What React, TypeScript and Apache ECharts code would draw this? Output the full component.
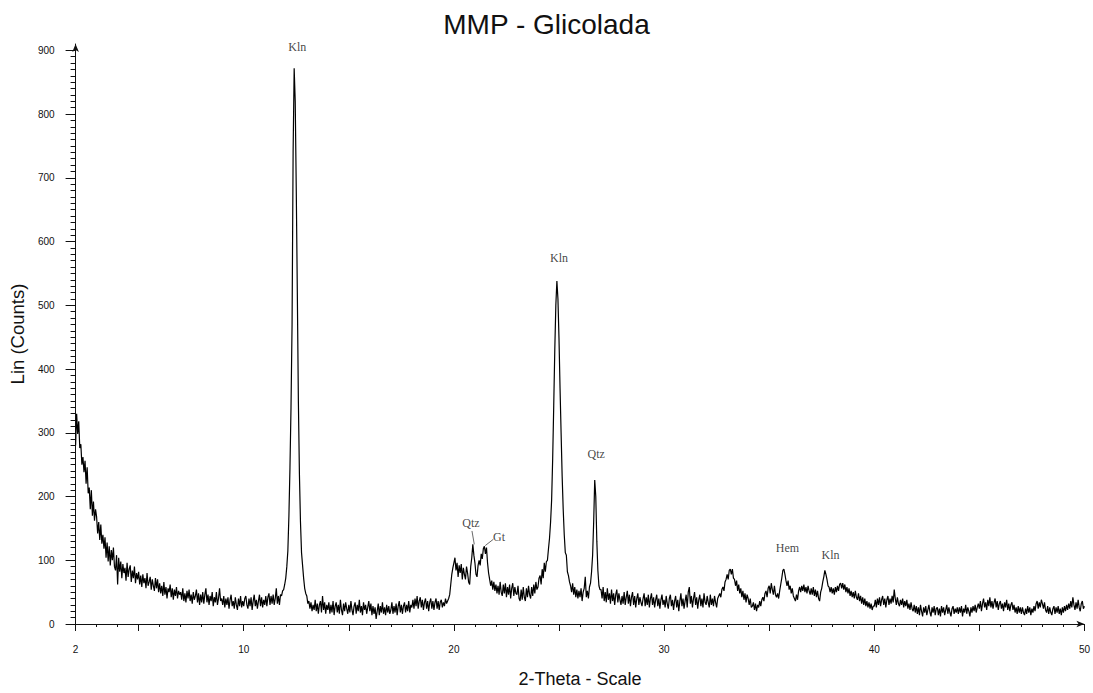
import { useEffect, useRef } from 'react';
import * as echarts from 'echarts';

// 2-theta grid: counts sampled every 0.05 deg starting at 2.00
const THETA_START = 2;
const THETA_STEP = 0.05;

const counts2to10 = [
  280, 330, 298, 318, 276, 282, 250, 262, 238, 256, 220, 246, 205, 214, 180, 210, 170, 192, 162, 180,
  168, 142, 160, 132, 156, 126, 140, 118, 136, 104, 128, 98, 122, 92, 116, 100, 120, 90, 84, 108,
  62, 104, 82, 98, 72, 94, 80, 88, 68, 96, 74, 86, 92, 66, 84, 72, 90, 64, 80, 70,
  82, 62, 76, 58, 78, 64, 72, 56, 80, 60, 66, 74, 54, 70, 60, 52, 72, 56, 70, 50,
  64, 48, 60, 44, 66, 46, 58, 40, 56, 50, 62, 42, 56, 38, 54, 44, 58, 40, 52, 46,
  50, 38, 56, 36, 48, 34, 52, 40, 54, 36, 46, 32, 50, 38, 44, 54, 34, 48, 30, 46,
  34, 50, 32, 46, 56, 34, 46, 30, 44, 36, 50, 28, 42, 34, 50, 30, 40, 56, 36, 40,
  30, 44, 26, 40, 30, 42, 24, 38, 46, 28, 36, 24, 42, 30, 22, 40, 28, 44, 26, 36,
];
const counts10to20 = [
  28, 40, 44, 30, 24, 40, 28, 42, 22, 36, 46, 28, 38, 24, 36, 46, 28, 42, 26, 38,
  30, 44, 28, 42, 48, 30, 44, 32, 46, 30, 40, 56, 32, 44, 30, 46, 44, 52, 54, 62,
  72, 90, 115, 170, 245, 340, 470, 740, 872, 820, 680, 520, 350, 235, 160, 112, 92, 72, 56, 48,
  44, 32, 36, 24, 34, 20, 30, 22, 38, 20, 32, 16, 30, 36, 18, 44, 22, 34, 16, 30,
  22, 34, 16, 30, 18, 36, 14, 28, 34, 18, 30, 16, 38, 22, 14, 32, 20, 34, 24, 16,
  30, 18, 36, 22, 14, 28, 34, 16, 30, 20, 38, 18, 28, 14, 34, 22, 30, 16, 26, 36,
  20, 32, 14, 28, 16, 26, 8, 20, 32, 14, 28, 18, 34, 16, 26, 14, 30, 18, 28, 16,
  22, 34, 16, 28, 18, 32, 14, 28, 36, 18, 30, 16, 28, 34, 18, 30, 20, 36, 18, 30,
  26, 38, 24, 40, 28, 44, 24, 36, 42, 26, 38, 22, 34, 40, 24, 36, 20, 34, 40, 24,
  36, 22, 34, 40, 24, 36, 22, 34, 38, 26, 34, 28, 40, 32, 36, 40, 46, 62, 78, 88,
];
const counts20to30 = [
  96, 104, 84, 96, 74, 92, 80, 94, 70, 88, 78, 70, 90, 80, 66, 62, 90, 104, 125, 108,
  96, 78, 74, 92, 100, 92, 110, 102, 118, 122, 110, 120, 96, 80, 70, 60, 68, 54, 66, 52,
  62, 48, 60, 46, 66, 50, 44, 62, 48, 64, 42, 58, 46, 62, 40, 56, 64, 44, 58, 48,
  46, 60, 40, 36, 54, 38, 58, 42, 36, 56, 42, 60, 46, 40, 58, 44, 62, 48, 66, 54,
  58, 72, 76, 62, 86, 72, 96, 82, 98, 100, 118, 135, 160, 195, 260, 343, 430, 500, 538, 510,
  448, 370, 300, 232, 180, 140, 112, 108, 82, 76, 66, 60, 50, 64, 46, 58, 42, 54, 40, 52,
  42, 56, 36, 50, 56, 74, 42, 52, 40, 58, 64, 82, 108, 160, 226, 200, 130, 84, 60, 54,
  54, 40, 58, 36, 50, 34, 56, 38, 48, 32, 54, 36, 48, 30, 46, 54, 34, 48, 38, 30,
  44, 32, 50, 30, 42, 52, 32, 46, 28, 42, 50, 30, 44, 26, 40, 48, 30, 42, 34, 28,
  40, 48, 28, 42, 30, 46, 26, 40, 48, 30, 42, 26, 38, 46, 28, 40, 24, 38, 46, 30,
];
const counts30to40 = [
  38, 26, 44, 32, 24, 40, 46, 28, 38, 22, 36, 44, 26, 38, 20, 36, 48, 28, 40, 24,
  36, 46, 26, 50, 58, 32, 44, 26, 40, 50, 30, 42, 24, 38, 46, 28, 40, 26, 48, 34,
  30, 44, 34, 26, 46, 30, 40, 28, 44, 34, 26, 40, 44, 48, 42, 54, 58, 52, 66, 70,
  78, 70, 84, 86, 78, 86, 72, 70, 60, 68, 52, 62, 48, 56, 42, 52, 38, 48, 34, 46,
  40, 30, 40, 26, 28, 34, 22, 32, 20, 30, 26, 36, 28, 38, 42, 36, 48, 52, 42, 56,
  60, 48, 64, 54, 46, 60, 46, 42, 48, 40, 52, 62, 72, 84, 86, 78, 68, 60, 68, 54,
  60, 48, 56, 44, 40, 36, 46, 38, 52, 58, 50, 60, 52, 62, 50, 58, 48, 60, 52, 46,
  56, 46, 58, 44, 54, 42, 52, 40, 36, 50, 56, 66, 74, 84, 78, 70, 60, 58, 50, 58,
  48, 56, 46, 58, 50, 60, 52, 62, 64, 56, 64, 54, 62, 50, 58, 48, 56, 44, 52, 42,
  50, 40, 52, 42, 38, 48, 36, 44, 32, 42, 30, 40, 28, 36, 26, 34, 24, 32, 22, 28,
];
const counts40to50 = [
  28, 38, 26, 40, 30, 42, 28, 38, 44, 30, 40, 26, 38, 44, 30, 40, 32, 44, 34, 54,
  40, 30, 42, 32, 28, 38, 30, 40, 26, 36, 28, 38, 24, 32, 22, 34, 24, 20, 30, 18,
  28, 16, 26, 14, 30, 20, 12, 26, 18, 28, 14, 22, 30, 18, 12, 26, 18, 28, 14, 24,
  26, 14, 24, 12, 28, 18, 26, 14, 22, 30, 16, 26, 18, 12, 24, 28, 16, 24, 18, 26,
  16, 26, 18, 28, 12, 24, 18, 30, 16, 26, 20, 12, 26, 18, 28, 20, 30, 18, 26, 32,
  24, 36, 20, 32, 40, 26, 34, 22, 38, 28, 42, 26, 36, 24, 34, 40, 26, 36, 22, 32,
  36, 24, 32, 20, 34, 26, 38, 22, 32, 20, 30, 34, 22, 30, 18, 26, 16, 28, 18, 26,
  16, 26, 18, 14, 24, 16, 28, 18, 26, 14, 24, 18, 28, 20, 32, 36, 24, 34, 26, 38,
  32, 24, 34, 22, 18, 28, 16, 26, 18, 14, 24, 28, 16, 26, 18, 28, 16, 24, 14, 26,
  18, 28, 20, 30, 22, 32, 24, 36, 26, 42, 30, 22, 34, 24, 38, 26, 20, 32, 36, 24,
  28,
];

// Phase annotations
const peakLabels = ['Kln', 'Qtz', 'Gt', 'Kln', 'Qtz', 'Hem', 'Kln'];
const labelTheta = [12.55, 20.81, 22.15, 25.0, 26.77, 35.87, 37.92];
const labelCounts = [905, 158, 137, 574, 266, 119, 109];
const leaderQtz = [[20.86, 146], [20.97, 125]];
const leaderGt = [[21.88, 133], [21.49, 123]];

// Axis labels
const xLabelValues = [2, 10, 20, 30, 40, 50];
const yLabelValues = [0, 100, 200, 300, 400, 500, 600, 700, 800, 900];

export default function App() {
  const ref = useRef<HTMLDivElement>(null);
  useEffect(() => {
    const chart = echarts.init(ref.current!, null, { renderer: 'svg' });
    const counts = [...counts2to10, ...counts10to20, ...counts20to30, ...counts30to40, ...counts40to50];
    const data = counts.map((c, i) => [+(THETA_START + i * THETA_STEP).toFixed(2), c]);
    const xMinor: number[] = [];
    for (let v = 2; v <= 50; v++) xMinor.push(v);
    const xMajor: number[] = [2];
    for (let v = 5; v <= 50; v += 5) xMajor.push(v);
    const yMinor: number[] = [];
    for (let v = 0; v <= 900; v += 10) yMinor.push(v);

    const font = 'Liberation Sans, Arial, sans-serif';
    const axisColor = '#111';

    chart.setOption({
      animation: false,
      backgroundColor: '#fff',
      title: {
        text: 'MMP - Glicolada',
        left: 'center',
        top: 5,
        textStyle: { fontSize: 28, fontWeight: 'normal', fontFamily: font, color: '#111' },
      },
      grid: { left: 73, right: 5, top: 44, bottom: 66, containLabel: false },
      xAxis: [
        {
          type: 'value', min: 2, max: 50, interval: 1, position: 'bottom',
          axisLine: { show: true, lineStyle: { color: axisColor, width: 1 }, symbol: ['none', 'arrow'], symbolSize: [5, 8] },
          axisTick: { show: true, customValues: xMinor, length: 3, lineStyle: { color: axisColor } },
          axisLabel: { customValues: xLabelValues, margin: 20, fontSize: 10, color: '#111', fontFamily: font },
          splitLine: { show: false },
          name: '2-Theta - Scale', nameLocation: 'middle', nameGap: 46,
          nameTextStyle: { fontSize: 18, color: '#111', fontFamily: font },
        },
        {
          type: 'value', min: 2, max: 50, interval: 1, position: 'bottom',
          axisLine: { show: false },
          axisTick: { show: true, customValues: xMajor, length: 7, lineStyle: { color: axisColor } },
          axisLabel: { show: false },
          splitLine: { show: false },
        },
      ],
      yAxis: [
        {
          type: 'value', min: 0, max: 910, interval: 10, position: 'left',
          axisLine: { show: true, lineStyle: { color: axisColor, width: 1 }, symbol: ['none', 'arrow'], symbolSize: [5, 8] },
          axisTick: { show: true, customValues: yMinor, length: 5, lineStyle: { color: axisColor } },
          axisLabel: { customValues: yLabelValues, margin: 21, fontSize: 10, color: '#111', fontFamily: font },
          splitLine: { show: false },
          name: 'Lin (Counts)', nameLocation: 'middle', nameGap: 37,
          nameTextStyle: { fontSize: 18.5, color: '#111', fontFamily: font },
        },
        {
          type: 'value', min: 0, max: 910, interval: 10, position: 'left',
          axisLine: { show: false },
          axisTick: { show: true, customValues: yLabelValues, length: 10, lineStyle: { color: axisColor } },
          axisLabel: { show: false },
          splitLine: { show: false },
        },
      ],
      series: [
        {
          type: 'line', data, xAxisIndex: 0, yAxisIndex: 0, showSymbol: false, symbol: 'none',
          lineStyle: { color: '#000', width: 1.2 }, silent: true,
        },
        {
          type: 'line', data: leaderQtz, xAxisIndex: 0, yAxisIndex: 0, showSymbol: false, symbol: 'none',
          lineStyle: { color: '#444', width: 0.8 }, silent: true,
        },
        {
          type: 'line', data: leaderGt, xAxisIndex: 0, yAxisIndex: 0, showSymbol: false, symbol: 'none',
          lineStyle: { color: '#444', width: 0.8 }, silent: true,
        },
        {
          type: 'scatter', xAxisIndex: 0, yAxisIndex: 0, silent: true,
          data: labelTheta.map((x, i) => [x, labelCounts[i]]),
          symbolSize: 1,
          itemStyle: { color: 'rgba(0,0,0,0)' },
          label: {
            show: true, position: 'inside',
            formatter: (p: any) => peakLabels[p.dataIndex],
            fontFamily: 'Liberation Serif, Times New Roman, serif', fontSize: 12, color: '#111',
          },
        },
      ],
    });
    return () => chart.dispose();
  }, []);
  return (
    <div
      ref={ref}
      style={{ position: 'absolute', left: 0, top: 0, width: 1093, height: 693, background: '#fff' }}
    />
  );
}
